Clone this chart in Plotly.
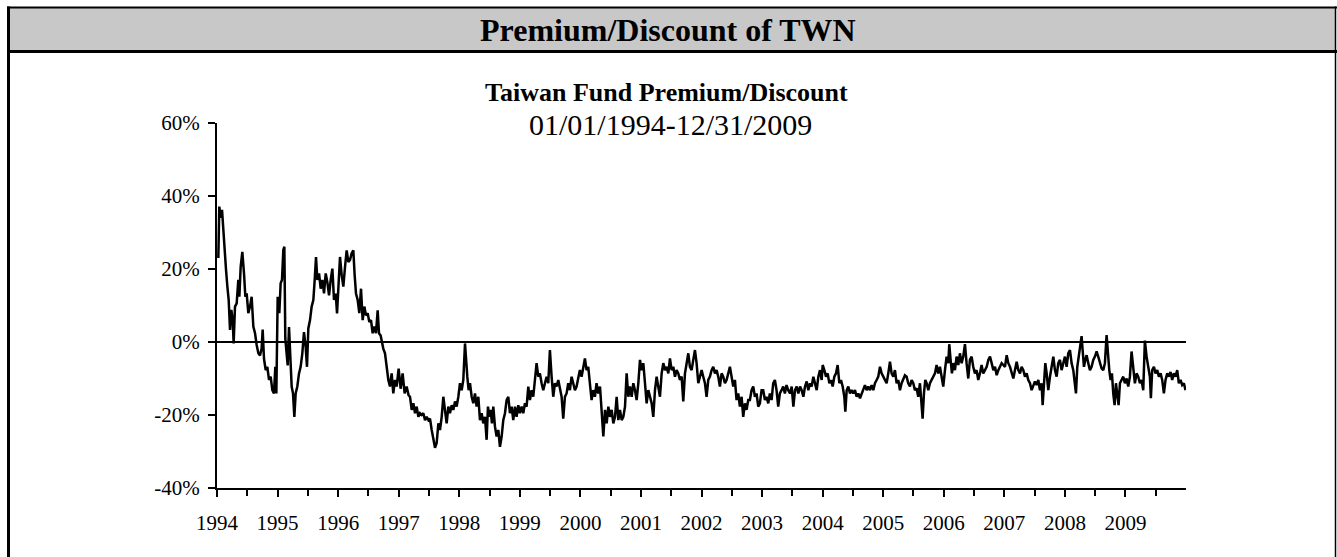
import plotly.graph_objects as go

# ---------------- data ----------------
years = [
 1994.022, 1994.038, 1994.061, 1994.083, 1994.105, 1994.127, 1994.149, 1994.171, 1994.193, 1994.215,
 1994.237, 1994.259, 1994.275, 1994.297, 1994.325, 1994.352, 1994.369, 1994.391, 1994.418, 1994.446,
 1994.468, 1994.490, 1994.517, 1994.545, 1994.572, 1994.600, 1994.628, 1994.655, 1994.683, 1994.710,
 1994.737, 1994.754, 1994.776, 1994.804, 1994.831, 1994.859, 1994.886, 1994.914, 1994.941, 1994.963,
 1994.980, 1995.002, 1995.029, 1995.051, 1995.073, 1995.095, 1995.112, 1995.128, 1995.145, 1995.167,
 1995.189, 1995.211, 1995.233, 1995.255, 1995.277, 1995.299, 1995.326, 1995.354, 1995.381, 1995.409,
 1995.436, 1995.464, 1995.486, 1995.508, 1995.536, 1995.563, 1995.591, 1995.613, 1995.635, 1995.657,
 1995.685, 1995.712, 1995.740, 1995.767, 1995.795, 1995.822, 1995.850, 1995.877, 1995.905, 1995.932,
 1995.960, 1995.982, 1996.004, 1996.031, 1996.059, 1996.086, 1996.114, 1996.141, 1996.169, 1996.196,
 1996.224, 1996.251, 1996.273, 1996.295, 1996.323, 1996.350, 1996.378, 1996.405, 1996.433, 1996.460,
 1996.488, 1996.515, 1996.543, 1996.570, 1996.598, 1996.625, 1996.653, 1996.675, 1996.702, 1996.724,
 1996.746, 1996.774, 1996.801, 1996.829, 1996.856, 1996.884, 1996.911, 1996.939, 1996.966, 1996.999,
 1997.032, 1997.065, 1997.098, 1997.131, 1997.164,
 1997.187, 1997.215, 1997.242, 1997.270, 1997.297, 1997.325, 1997.352, 1997.380, 1997.407, 1997.435,
 1997.462, 1997.490, 1997.517, 1997.545, 1997.572, 1997.600, 1997.627, 1997.655, 1997.682, 1997.710,
 1997.737, 1997.765, 1997.792, 1997.820, 1997.847, 1997.875, 1997.902, 1997.930, 1997.957, 1997.985,
 1998.012, 1998.040, 1998.067, 1998.095, 1998.111, 1998.133, 1998.155, 1998.177, 1998.205, 1998.232,
 1998.260, 1998.287, 1998.315, 1998.342, 1998.370, 1998.397, 1998.425, 1998.452, 1998.474, 1998.496,
 1998.518, 1998.540, 1998.562, 1998.590, 1998.617, 1998.645, 1998.672, 1998.700, 1998.727, 1998.755,
 1998.782, 1998.810, 1998.837, 1998.865, 1998.892, 1998.920, 1998.947, 1998.975, 1999.002, 1999.030,
 1999.057, 1999.085, 1999.112, 1999.140, 1999.167, 1999.195, 1999.222, 1999.250, 1999.277, 1999.305,
 1999.332, 1999.360, 1999.387, 1999.415, 1999.442, 1999.470, 1999.497, 1999.525, 1999.552, 1999.580,
 1999.607, 1999.635, 1999.662, 1999.690, 1999.717, 1999.745, 1999.772, 1999.800, 1999.827, 1999.855,
 1999.882, 1999.910, 1999.937, 1999.965, 1999.992, 2000.020, 2000.047, 2000.075, 2000.102, 2000.130,
 2000.157, 2000.185, 2000.212, 2000.240, 2000.267, 2000.295,
 2000.324, 2000.352, 2000.379, 2000.407, 2000.434, 2000.462, 2000.489, 2000.517, 2000.544, 2000.572,
 2000.599, 2000.627, 2000.654, 2000.682, 2000.709, 2000.737, 2000.764, 2000.792, 2000.819, 2000.847,
 2000.874, 2000.902, 2000.929, 2000.957, 2000.984, 2001.012, 2001.039, 2001.067, 2001.094, 2001.122,
 2001.149, 2001.177, 2001.204, 2001.232, 2001.259, 2001.287, 2001.314, 2001.342, 2001.369, 2001.397,
 2001.424, 2001.452, 2001.479, 2001.507, 2001.534, 2001.562, 2001.589, 2001.617, 2001.644, 2001.672,
 2001.699, 2001.727, 2001.754, 2001.782, 2001.809, 2001.837, 2001.864, 2001.892, 2001.919, 2001.947,
 2001.974, 2002.002, 2002.029, 2002.057, 2002.084, 2002.112, 2002.139, 2002.167, 2002.194, 2002.222,
 2002.249, 2002.277, 2002.304, 2002.332, 2002.359, 2002.387, 2002.414, 2002.442, 2002.469, 2002.497,
 2002.524, 2002.552, 2002.579, 2002.607, 2002.634, 2002.662, 2002.689, 2002.717, 2002.744, 2002.772,
 2002.799, 2002.827, 2002.854, 2002.882, 2002.909, 2002.937, 2002.964, 2002.992, 2003.019, 2003.047,
 2003.074, 2003.102, 2003.129, 2003.157, 2003.184, 2003.212, 2003.239, 2003.267, 2003.294, 2003.322,
 2003.349, 2003.377, 2003.404, 2003.432,
 2003.462, 2003.489, 2003.517, 2003.544, 2003.572, 2003.599, 2003.627, 2003.654, 2003.682, 2003.709,
 2003.737, 2003.764, 2003.792, 2003.819, 2003.847, 2003.874, 2003.902, 2003.929, 2003.957, 2003.984,
 2004.001, 2004.028, 2004.056, 2004.083, 2004.111, 2004.138, 2004.166, 2004.193, 2004.221, 2004.248,
 2004.276, 2004.303, 2004.331, 2004.358, 2004.375, 2004.397, 2004.424, 2004.452, 2004.479, 2004.507,
 2004.534, 2004.562, 2004.589, 2004.617, 2004.644, 2004.672, 2004.699, 2004.727, 2004.754, 2004.782,
 2004.809, 2004.837, 2004.864, 2004.892, 2004.919, 2004.947, 2004.974, 2005.002, 2005.029, 2005.057,
 2005.084, 2005.112, 2005.139, 2005.167, 2005.194, 2005.222, 2005.249, 2005.277, 2005.304, 2005.332,
 2005.359, 2005.387, 2005.414, 2005.442, 2005.469, 2005.497, 2005.524, 2005.552, 2005.579, 2005.607,
 2005.634, 2005.651, 2005.673, 2005.695, 2005.717, 2005.745, 2005.772, 2005.800, 2005.827, 2005.855,
 2005.882, 2005.910, 2005.937, 2005.965, 2005.992, 2006.020, 2006.047, 2006.075, 2006.091, 2006.113,
 2006.135, 2006.157, 2006.185, 2006.212, 2006.240, 2006.267, 2006.295, 2006.322, 2006.350, 2006.377,
 2006.405, 2006.432, 2006.460, 2006.487, 2006.515, 2006.542, 2006.570, 2006.597, 2006.625, 2006.652,
 2006.681, 2006.709, 2006.736, 2006.764, 2006.791, 2006.819, 2006.846, 2006.874, 2006.901, 2006.929,
 2006.956, 2006.984, 2007.011, 2007.039, 2007.066, 2007.094, 2007.121, 2007.149, 2007.176, 2007.204,
 2007.231, 2007.259, 2007.286, 2007.314, 2007.341, 2007.369, 2007.396, 2007.424, 2007.451, 2007.479,
 2007.506, 2007.534, 2007.561, 2007.589, 2007.616, 2007.633, 2007.655, 2007.677, 2007.699, 2007.726,
 2007.754, 2007.781, 2007.809, 2007.836, 2007.864, 2007.891, 2007.919, 2007.946, 2007.974, 2008.001,
 2008.029, 2008.056, 2008.084, 2008.111, 2008.139, 2008.166, 2008.183, 2008.205, 2008.227, 2008.249,
 2008.276, 2008.293, 2008.315, 2008.337, 2008.359, 2008.386, 2008.414, 2008.441, 2008.469, 2008.496,
 2008.524, 2008.551, 2008.579, 2008.606, 2008.634, 2008.661, 2008.689, 2008.711, 2008.733, 2008.755,
 2008.777, 2008.799, 2008.821, 2008.843, 2008.865, 2008.887, 2008.909, 2008.936, 2008.964, 2008.991,
 2009.019, 2009.046, 2009.074, 2009.101, 2009.129, 2009.156, 2009.184, 2009.211, 2009.239, 2009.266,
 2009.294, 2009.321, 2009.349, 2009.376, 2009.404, 2009.420, 2009.442, 2009.470, 2009.497, 2009.525,
 2009.552, 2009.580, 2009.607, 2009.635, 2009.662, 2009.690, 2009.717, 2009.745, 2009.772, 2009.800,
 2009.827, 2009.855, 2009.882, 2009.910, 2009.937, 2009.965, 2009.992,
]

premium_pct = [
 23.0, 37.1, 34.0, 36.2, 30.7, 24.3, 19.8, 15.2, 11.5, 3.3,
 8.8, 6.0, -0.4, 9.7, 10.6, 17.0, 12.4, 20.6, 24.7, 18.8,
 12.4, 13.3, 7.9, 9.7, 12.4, 4.2, 2.4, -0.8, -3.1, -3.7,
 -1.8, 3.4, -4.6, -7.7, -6.8, -10.4, -9.5, -13.2, -14.1, -6.8,
 -14.1, 12.4, 7.9, 16.1, 17.0, 25.2, 26.1, 0.9, -2.7, -6.4,
 4.1, -6.4, -12.2, -14.1, -20.5, -14.1, -12.2, -8.6, -6.8, -3.1,
 2.7, -1.3, -6.8, 3.7, 6.0, 9.7, 11.5, 17.0, 23.3, 17.0,
 18.8, 14.6, 17.0, 13.3, 18.8, 16.4, 12.8, 17.0, 20.1, 11.5,
 13.3, 7.8, 16.4, 23.3, 18.3, 15.2, 20.6, 25.1, 21.9, 22.5,
 24.3, 25.1, 18.3, 13.3, 11.5, 7.9, 14.6, 6.0, 9.7, 7.3,
 7.9, 5.5, 6.0, 2.4, 4.2, 2.4, 8.7, 2.4, 1.8, -0.4,
 -1.8, -3.1, -6.8, -10.4, -12.2, -8.6, -14.1, -10.4, -12.2, -7.3,
 -12.8, -8.6, -14.1, -12.2, -14.6,
 -15.0, -18.6, -16.8, -19.5, -17.7, -20.5, -19.5, -20.0, -19.5, -21.4,
 -20.5, -21.4, -21.0, -24.1, -26.8, -29.0, -27.7, -22.3, -24.1, -20.5,
 -15.0, -18.6, -22.3, -17.7, -19.5, -17.3, -18.6, -16.3, -17.7, -15.0,
 -11.3, -13.2, -10.4, -0.4, -5.8, -9.5, -13.2, -11.3, -15.0, -16.8,
 -14.1, -17.7, -15.0, -21.4, -19.5, -22.3, -20.5, -26.8, -17.7, -20.5,
 -18.6, -22.3, -17.7, -23.2, -25.9, -24.1, -28.7, -25.9, -21.4, -19.5,
 -15.9, -15.0, -19.5, -17.7, -21.4, -17.7, -20.5, -17.3, -19.5, -17.7,
 -19.5, -16.8, -17.7, -12.2, -15.9, -13.2, -15.0, -10.4, -5.8, -9.5,
 -8.6, -11.3, -13.2, -11.3, -9.5, -11.3, -2.2, -9.5, -15.0, -11.3,
 -12.2, -10.4, -13.2, -15.0, -21.0, -15.0, -14.1, -11.3, -13.2, -9.5,
 -11.3, -13.2, -12.2, -9.5, -7.7, -9.5, -6.8, -4.5, -7.7, -6.8,
 -11.3, -15.9, -13.2, -15.0, -11.3, -14.1,
 -12.2, -19.5, -25.9, -18.6, -22.3, -17.7, -20.5, -18.6, -22.3, -20.5,
 -15.0, -21.4, -18.6, -21.4, -20.5, -17.7, -8.6, -15.0, -12.2, -15.0,
 -11.3, -13.2, -15.9, -11.3, -4.9, -7.7, -5.8, -11.3, -16.8, -13.2,
 -15.0, -16.8, -20.5, -13.2, -9.5, -12.2, -15.0, -8.6, -5.8, -7.7,
 -6.8, -8.6, -4.5, -7.7, -6.8, -9.5, -7.7, -8.6, -10.4, -9.5,
 -16.3, -8.6, -5.8, -3.1, -6.8, -7.7, -4.9, -2.2, -5.8, -11.3,
 -9.5, -7.7, -9.5, -11.3, -15.0, -10.4, -9.5, -7.7, -6.8, -8.6,
 -7.7, -9.5, -12.2, -8.6, -9.5, -11.3, -10.4, -8.6, -6.8, -9.5,
 -12.2, -10.4, -15.9, -14.1, -17.7, -15.0, -20.5, -16.8, -18.6, -15.9,
 -15.9, -13.2, -12.2, -15.0, -14.1, -17.7, -16.8, -13.2, -13.2, -15.9,
 -15.0, -16.8, -14.1, -15.9, -11.3, -10.4, -13.2, -17.7, -14.1, -13.2,
 -12.2, -14.1, -11.8, -13.2,
 -14.1, -12.2, -17.7, -13.2, -12.2, -14.1, -12.2, -13.2, -15.0, -12.2,
 -10.8, -13.2, -11.3, -12.2, -9.5, -11.3, -13.2, -9.5, -7.7, -10.4,
 -6.3, -7.7, -9.5, -8.6, -11.3, -10.4, -12.2, -9.5, -8.6, -6.3,
 -11.3, -10.4, -12.2, -15.0, -19.1, -13.2, -12.2, -14.1, -13.2, -14.1,
 -13.2, -15.0, -14.1, -15.4, -14.1, -13.2, -11.8, -13.2, -12.2, -13.2,
 -11.8, -13.2, -11.3, -10.4, -9.5, -6.8, -8.6, -9.5, -10.4, -11.3,
 -8.6, -5.4, -8.6, -9.5, -7.7, -11.3, -10.4, -13.2, -11.3, -10.4,
 -9.1, -9.5, -11.3, -12.2, -10.4, -11.3, -13.2, -12.7, -15.0, -11.3,
 -16.8, -21.0, -14.1, -10.4, -11.3, -13.2, -11.3, -10.4, -9.5, -8.6,
 -6.3, -8.6, -6.8, -9.5, -12.2, -7.7, -4.0, -5.8, -0.6, -4.9,
 -8.6, -5.8, -7.7, -4.0, -6.3, -3.1, -5.8, -4.0, -0.6, -5.8,
 -10.0, -4.9, -4.0, -6.8, -8.6, -7.7, -10.4, -8.6, -6.3, -8.6,
 -7.7, -6.8, -4.9, -4.0, -5.8, -7.7, -6.8, -9.1, -7.7, -6.8,
 -5.8, -6.3, -6.8, -3.6, -5.8, -6.8, -8.2, -10.0, -7.7, -5.4,
 -7.7, -8.6, -6.8, -7.7, -9.5, -8.6, -10.4, -11.3, -13.2, -12.2,
 -10.8, -11.8, -10.4, -13.2, -11.3, -17.3, -9.5, -5.8, -8.6, -13.2,
 -9.5, -6.8, -4.0, -7.7, -9.5, -5.8, -4.9, -7.7, -5.8, -4.0,
 -6.8, -3.1, -2.2, -5.8, -7.7, -11.3, -14.1, -6.8, -4.0, -2.2,
 1.6, -2.2, -6.8, -4.9, -3.6, -5.8, -7.7, -6.8, -4.9, -4.0,
 -2.6, -4.0, -5.8, -7.2, -7.7, -5.8, 1.9, -4.0, -7.7, -10.4,
 -8.6, -14.1, -17.3, -11.3, -15.0, -17.3, -11.3, -10.4, -9.5, -11.3,
 -10.0, -12.2, -9.5, -2.6, -7.7, -11.3, -8.6, -9.5, -11.3, -10.4,
 -13.2, 0.4, -4.0, -6.8, -9.5, -15.4, -7.7, -6.8, -8.6, -7.7,
 -9.5, -8.6, -10.4, -14.1, -10.4, -8.6, -9.5, -8.2, -10.4, -8.6,
 -9.5, -7.7, -11.3, -10.4, -11.8, -11.3, -13.2,
]

year_ticks = list(range(1994, 2010))
year_labels = [str(y) for y in year_ticks]
half_year_ticks = [y + 0.5 for y in range(1994, 2010)]
pct_ticks = [-40, -20, 0, 20, 40, 60]
pct_labels = ["-40%", "-20%", "0%", "20%", "40%", "60%"]

header_text = "Premium/Discount of TWN"
chart_title = "Taiwan Fund Premium/Discount"
chart_subtitle = "01/01/1994-12/31/2009"

# ---------------- layout geometry (pixels) ----------------
W, H = 1337, 557
L, R, T, B = 217, W - 1186, 123, H - 488
PW, PH = W - L - R, H - T - B


def px_x(px):
    return (px - L) / PW


def px_y(py):
    return (H - B - py) / PH


FONT = "Liberation Serif, Times New Roman, serif"

fig = go.Figure()
fig.add_trace(go.Scatter(
    x=years, y=premium_pct, mode="lines",
    line=dict(color="black", width=2.5),
    hoverinfo="skip", showlegend=False,
))

shapes = [
    # header band
    dict(type="rect", xref="paper", yref="paper",
         x0=px_x(8), x1=px_x(1336), y0=px_y(51), y1=px_y(8),
         fillcolor="#c8c8c8", line=dict(width=0), layer="below"),
    dict(type="line", xref="paper", yref="paper",
         x0=px_x(7), x1=px_x(1337), y0=px_y(7.5), y1=px_y(7.5),
         line=dict(color="black", width=2)),
    dict(type="line", xref="paper", yref="paper",
         x0=px_x(7), x1=px_x(1337), y0=px_y(51.5), y1=px_y(51.5),
         line=dict(color="black", width=3)),
    # box borders
    dict(type="line", xref="paper", yref="paper",
         x0=px_x(8.5), x1=px_x(8.5), y0=px_y(6.5), y1=px_y(560),
         line=dict(color="black", width=3)),
    dict(type="line", xref="paper", yref="paper",
         x0=px_x(1335.5), x1=px_x(1335.5), y0=px_y(6.5), y1=px_y(560),
         line=dict(color="black", width=1.5)),
]

annotations = [
    dict(text="<b>%s</b>" % header_text, xref="paper", yref="paper",
         x=px_x(668), y=px_y(30), xanchor="center", yanchor="middle",
         showarrow=False, font=dict(family=FONT, size=32, color="black")),
    dict(text="<b>%s</b>" % chart_title, xref="paper", yref="paper",
         x=px_x(666), y=px_y(92), xanchor="center", yanchor="middle",
         showarrow=False, font=dict(family=FONT, size=26, color="black")),
    dict(text=chart_subtitle, xref="paper", yref="paper",
         x=px_x(670), y=px_y(124), xanchor="center", yanchor="middle",
         showarrow=False, font=dict(family=FONT, size=30, color="black")),
]

fig.update_layout(
    width=W, height=H,
    margin=dict(l=L, r=R, t=T, b=B, pad=0),
    paper_bgcolor="white", plot_bgcolor="white",
    shapes=shapes, annotations=annotations,
    showlegend=False,
    font=dict(family=FONT, color="black"),
)

fig.update_xaxes(
    range=[1994, 2010], showgrid=False, zeroline=False,
    showline=True, linecolor="black", linewidth=2,
    tickmode="array", tickvals=year_ticks, ticktext=year_labels,
    ticks="outside", ticklen=7, tickwidth=2, tickcolor="black",
    minor=dict(tickmode="array", tickvals=half_year_ticks, ticks="outside",
               ticklen=6, tickwidth=2, tickcolor="black", showgrid=False),
    tickfont=dict(family=FONT, size=21, color="black"),
    ticklabelstandoff=8,
    fixedrange=True,
)

fig.update_yaxes(
    range=[-40, 60], showgrid=False,
    zeroline=True, zerolinecolor="black", zerolinewidth=1.6,
    showline=True, linecolor="black", linewidth=2,
    tickmode="array", tickvals=pct_ticks, ticktext=pct_labels,
    ticks="outside", ticklen=7, tickwidth=2, tickcolor="black",
    tickfont=dict(family=FONT, size=21, color="black"),
    ticklabelstandoff=4,
    fixedrange=True,
)

fig.write_html(
    "out.html",
    config=dict(displayModeBar=False),
    post_script="document.body.style.margin='0';document.body.style.overflow='hidden';",
)
